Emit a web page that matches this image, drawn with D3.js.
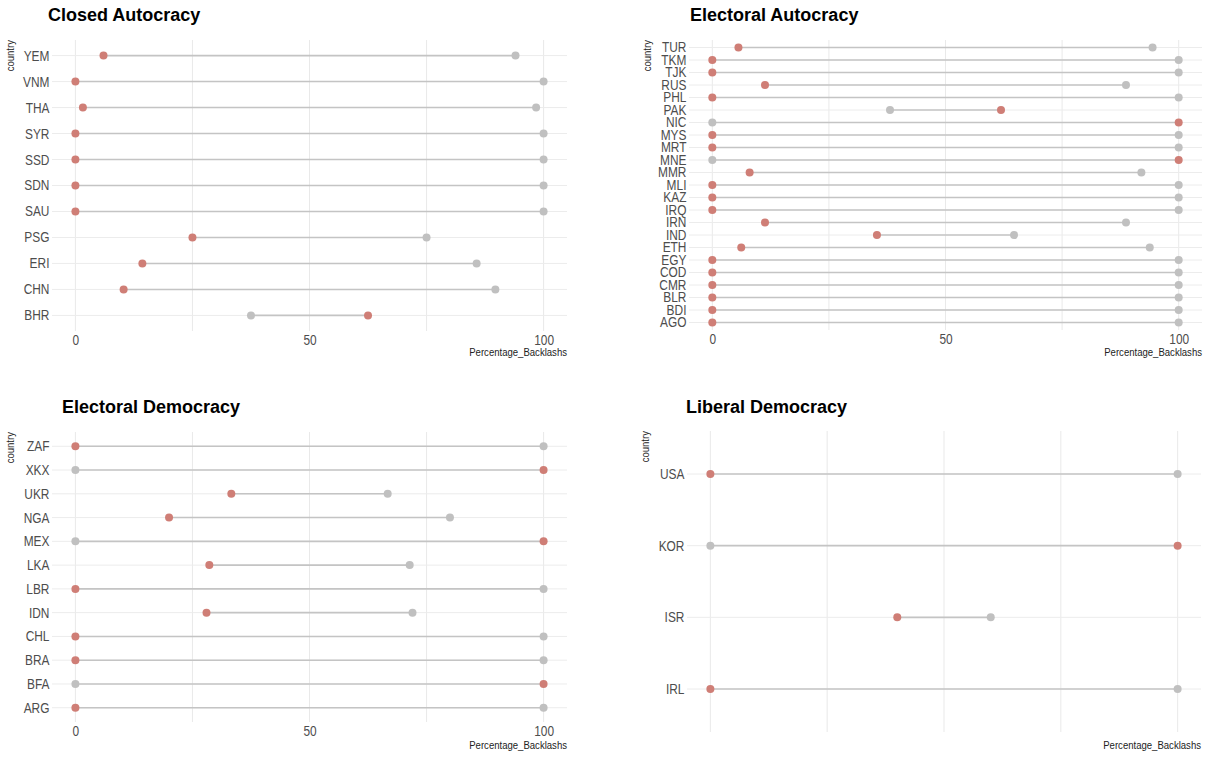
<!DOCTYPE html>
<html>
<head>
<meta charset="utf-8">
<script src="https://cdn.jsdelivr.net/npm/d3@7"></script>
<style>
  body { margin: 0; background: #fff; }
  svg { display: block; }
  .tick text { font-family: "Liberation Sans", Arial, sans-serif; }
</style>
</head>
<body>
<div id="chart"></div>
<script>
// panel titles
const panelTitles = ["Closed Autocracy", "Electoral Autocracy", "Electoral Democracy", "Liberal Democracy"];

// countries per panel (top to bottom)
const closedCountries = ["YEM", "VNM", "THA", "SYR", "SSD", "SDN", "SAU", "PSG", "ERI", "CHN", "BHR"];
const closedRed = [6, 0, 1.6, 0, 0, 0, 0, 25, 14.3, 10.3, 62.5];
const closedGrey = [94, 100, 98.4, 100, 100, 100, 100, 75, 85.7, 89.7, 37.5];

const elAutCountries = ["TUR", "TKM", "TJK", "RUS", "PHL", "PAK", "NIC", "MYS", "MRT", "MNE", "MMR", "MLI",
  "KAZ", "IRQ", "IRN", "IND", "ETH", "EGY", "COD", "CMR", "BLR", "BDI", "AGO"];
const elAutRed = [5.6, 0, 0, 11.3, 0, 61.9, 100, 0, 0, 100, 8, 0, 0, 0, 11.3, 35.3, 6.2, 0, 0, 0, 0, 0, 0];
const elAutGrey = [94.4, 100, 100, 88.7, 100, 38.1, 0, 100, 100, 0, 92, 100, 100, 100, 88.7, 64.7, 93.8, 100, 100, 100, 100, 100, 100];

const elDemCountries = ["ZAF", "XKX", "UKR", "NGA", "MEX", "LKA", "LBR", "IDN", "CHL", "BRA", "BFA", "ARG"];
const elDemRed = [0, 100, 33.3, 20, 100, 28.6, 0, 28, 0, 0, 100, 0];
const elDemGrey = [100, 0, 66.7, 80, 0, 71.4, 100, 72, 100, 100, 0, 100];

const libDemCountries = ["USA", "KOR", "ISR", "IRL"];
const libDemRed = [0, 100, 40, 0];
const libDemGrey = [100, 0, 60, 100];

const xTicks = [0, 50, 100];
const xGrid = [0, 25, 50, 75, 100];

const width = 1207, height = 761;
const svg = d3.select("#chart").append("svg")
  .attr("width", width)
  .attr("height", height);

// narrow look for the R-style axis text
const squeeze = "scale(0.85,1)";

// panel layout: plot area boxes
const panels = [
  { title: panelTitles[0], countries: closedCountries, red: closedRed, grey: closedGrey,
    x0: 52, x1: 567, y0: 40, y1: 331, titleX: 48, titleY: 21, xTitleY: 356, showTicks: true },
  { title: panelTitles[1], countries: elAutCountries, red: elAutRed, grey: elAutGrey,
    x0: 689, x1: 1202, y0: 40, y1: 330, titleX: 690, titleY: 21, xTitleY: 356, showTicks: true },
  { title: panelTitles[2], countries: elDemCountries, red: elDemRed, grey: elDemGrey,
    x0: 52, x1: 567, y0: 432, y1: 722, titleX: 62, titleY: 413, xTitleY: 749, showTicks: true },
  { title: panelTitles[3], countries: libDemCountries, red: libDemRed, grey: libDemGrey,
    x0: 687, x1: 1201, y0: 431, y1: 732, titleX: 686, titleY: 413, xTitleY: 749, showTicks: false }
];

panels.forEach(p => {
  const g = svg.append("g");
  const n = p.countries.length;

  const x = d3.scaleLinear().domain([-5, 105]).range([p.x0, p.x1]);
  // discrete axis with 0.6 expansion each side, like ggplot
  const y = d3.scaleLinear().domain([0.4, n + 0.6]).range([p.y1, p.y0]);
  const yPos = (d, i) => y(n - i);

  // vertical grid
  g.selectAll(".vgrid").data(xGrid).join("line")
    .attr("x1", d => x(d)).attr("x2", d => x(d))
    .attr("y1", p.y0).attr("y2", p.y1)
    .attr("stroke", "#e6e6e6").attr("stroke-width", 0.9);

  // horizontal grid
  g.selectAll(".hgrid").data(p.countries).join("line")
    .attr("x1", p.x0).attr("x2", p.x1)
    .attr("y1", yPos).attr("y2", yPos)
    .attr("stroke", "#ececec").attr("stroke-width", 1);

  // segments
  g.selectAll(".seg").data(p.countries).join("line")
    .attr("x1", (d, i) => x(p.red[i])).attr("x2", (d, i) => x(p.grey[i]))
    .attr("y1", yPos).attr("y2", yPos)
    .attr("stroke", "#c4c4c4").attr("stroke-width", 1.6);

  // grey points
  g.selectAll(".pg").data(p.countries).join("circle")
    .attr("cx", (d, i) => x(p.grey[i])).attr("cy", yPos).attr("r", 4)
    .attr("fill", "#c0c0c0");

  // red points
  g.selectAll(".pr").data(p.countries).join("circle")
    .attr("cx", (d, i) => x(p.red[i])).attr("cy", yPos).attr("r", 4)
    .attr("fill", "#cf7e76");

  // y axis labels
  const yAxis = d3.axisLeft(d3.scalePoint().domain(p.countries).range([yPos(null, 0), yPos(null, n - 1)]))
    .tickSize(0).tickPadding(3);
  g.append("g")
    .attr("transform", `translate(${p.x0},0)`)
    .call(yAxis)
    .call(a => a.select(".domain").remove())
    .selectAll("text")
    .attr("transform", squeeze)
    .attr("fill", "#4d4d4d")
    .style("font-size", "14px");

  // x axis labels
  if (p.showTicks) {
    g.append("g")
      .attr("transform", `translate(0,${p.y1})`)
      .call(d3.axisBottom(x).tickValues(xTicks).tickSize(0).tickPadding(4))
      .call(a => a.select(".domain").remove())
      .selectAll("text")
      .attr("transform", squeeze)
      .attr("fill", "#4d4d4d")
      .style("font-size", "14px");
  }

  // axis titles
  g.append("text")
    .attr("transform", `translate(${p.x1},${p.xTitleY}) scale(0.87,1)`)
    .attr("text-anchor", "end")
    .style("font-family", "'Liberation Sans', Arial, sans-serif")
    .style("font-size", "11px")
    .attr("fill", "#222")
    .text("Percentage_Backlashs");

  g.append("text")
    .attr("transform", `translate(${p.x0 - 38},${p.y0}) rotate(-90) scale(0.87,1)`)
    .attr("text-anchor", "end")
    .style("font-family", "'Liberation Sans', Arial, sans-serif")
    .style("font-size", "11px")
    .attr("fill", "#222")
    .text("country");

  // title
  g.append("text")
    .attr("x", p.titleX).attr("y", p.titleY)
    .style("font-family", "'Liberation Sans', Arial, sans-serif")
    .style("font-weight", "bold")
    .style("font-size", "18px")
    .attr("fill", "#000")
    .text(p.title);
});
</script>
</body>
</html>
